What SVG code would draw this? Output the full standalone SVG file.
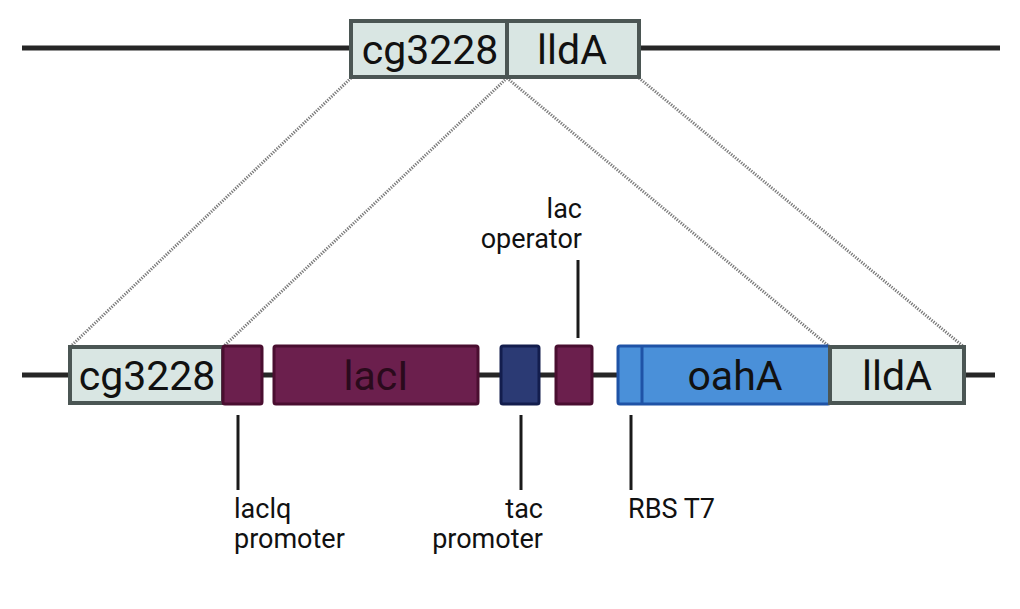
<svg xmlns="http://www.w3.org/2000/svg" width="1020" height="609" viewBox="0 0 1020 609">
<style>
.bb{stroke:#262626;stroke-width:5}
.tk{stroke:#1a1a1a;stroke-width:3}
.dot{stroke:#7a7a7a;stroke-width:3;stroke-dasharray:1.3 1.3;fill:none}
.gray{fill:#d9e6e3;stroke:#4b5654;stroke-width:4}
.pur{fill:#6b1f4d;stroke:#4a0e30;stroke-width:3}
.dblue{fill:#2b3a74;stroke:#131d4d;stroke-width:3}
.blue{fill:#4a90d9;stroke:#1f53a6;stroke-width:3}
.big{font-family:Roboto,"Liberation Sans",sans-serif;font-size:41px;fill:#111;text-anchor:middle}
.lbl{font-family:Roboto,"Liberation Sans",sans-serif;font-size:27px;fill:#111}
</style>
<rect width="1020" height="609" fill="#fff"/>
<g id="connectors">
<line class="bb" x1="22" y1="48" x2="1000" y2="48"/>
<line class="bb" x1="22" y1="375" x2="995" y2="375"/>
<line class="dot" x1="351" y1="78" x2="70" y2="347"/>
<line class="dot" x1="507" y1="78" x2="223" y2="347"/>
<line class="dot" x1="507" y1="78" x2="830" y2="347"/>
<line class="dot" x1="639" y1="78" x2="964" y2="347"/>
<line class="tk" x1="238" y1="415" x2="238" y2="490"/>
<line class="tk" x1="521" y1="415" x2="521" y2="490"/>
<line class="tk" x1="631" y1="415" x2="631" y2="490"/>
<line class="tk" x1="578" y1="260" x2="578" y2="338"/>
</g>
<g id="top-cg3228"><rect class="gray" x="351" y="21" width="156" height="56"/><text class="big" x="430" y="64">cg3228</text></g>
<g id="top-lldA"><rect class="gray" x="507" y="21" width="132" height="56"/><text class="big" x="572" y="64">lldA</text></g>
<g id="cg3228"><rect class="gray" x="70" y="347" width="153" height="56"/><text class="big" x="147" y="390">cg3228</text></g>
<g id="laclq-promoter"><rect class="pur" x="223" y="346" width="39" height="58" rx="2"/></g>
<g id="lacI"><rect class="pur" x="274" y="346" width="204" height="58" rx="2"/><text class="big" x="376" y="390" style="fill:#2a0a1c">lacI</text></g>
<g id="tac-promoter"><rect class="dblue" x="501" y="346" width="38" height="58" rx="2"/></g>
<g id="lac-operator"><rect class="pur" x="556" y="346" width="36" height="58" rx="2"/></g>
<g id="oahA"><rect class="blue" x="618" y="346" width="212" height="58" rx="2"/><line x1="642" y1="346" x2="642" y2="404" stroke="#1f53a6" stroke-width="3"/><text class="big" x="735" y="390">oahA</text></g>
<g id="lldA"><rect class="gray" x="830" y="347" width="134" height="56"/><text class="big" x="897" y="390">lldA</text></g>
<g id="labels">
<text class="lbl" x="234" y="518">laclq</text>
<text class="lbl" x="234" y="548">promoter</text>
<text class="lbl" x="543" y="518" text-anchor="end">tac</text>
<text class="lbl" x="543" y="548" text-anchor="end">promoter</text>
<text class="lbl" x="628" y="518">RBS T7</text>
<text class="lbl" x="582" y="218" text-anchor="end">lac</text>
<text class="lbl" x="582" y="248" text-anchor="end">operator</text>
</g>
</svg>
